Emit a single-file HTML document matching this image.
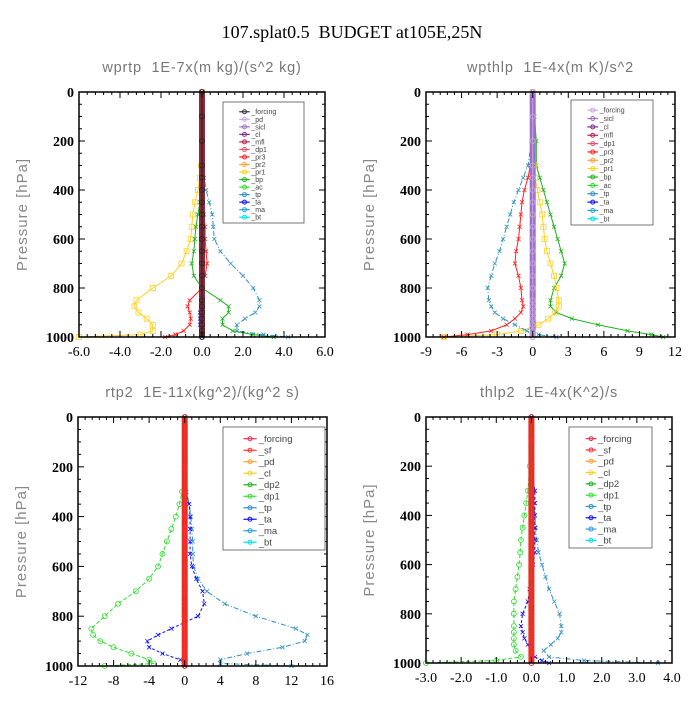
<!DOCTYPE html>
<html><head><meta charset="utf-8"><style>
body{margin:0;background:#fff;width:700px;height:700px;overflow:hidden}
svg text{font-family:"Liberation Sans",sans-serif;white-space:pre}
.tk{font-family:"Liberation Serif",serif;font-size:14px;fill:#000}
</style></head><body>
<svg id="s" width="700" height="700" xmlns="http://www.w3.org/2000/svg">
<text x="352" y="38" text-anchor="middle" style="font-family:'Liberation Serif',serif;font-size:18px">107.splat0.5  BUDGET at105E,25N</text>
</svg>
<script>
const levels=[0,100,200,300,350,400,450,500,550,600,650,700,750,800,850,875,900,925,950,975,990,1000];
// panel 1 wprtp
const p1_pr1=[0,0,0,-0.05,-0.1,-0.2,-0.35,-0.45,-0.5,-0.55,-0.75,-1.0,-1.5,-2.4,-3.2,-3.3,-3.1,-2.7,-2.4,-2.4,-3,-6.0];
const p1_bp=[0,0,0,0,0,-0.05,-0.1,-0.2,-0.3,-0.35,-0.4,-0.5,-0.4,0,0.9,1.3,1.3,1.0,1.0,1.5,2.5,3.5];
const p1_tp=[0,0,0,0.05,0.1,0.2,0.35,0.5,0.55,0.6,0.9,1.4,2.0,2.5,2.8,2.8,2.6,2.1,1.7,1.7,3.0,4.2];
const p1_pr3=[0,0,0,0,0,0,0.05,0.1,0.15,0.15,0.2,0.25,0.15,0,-0.6,-0.7,-0.6,-0.55,-0.6,-0.9,-1.3,-1.8];
const p1_ta=[0,0,0,0,0,0,0,0,0,0,0,0,0,0,0,-0.05,-0.1,-0.1,-0.1,0,0,0];
// panel 2 wpthlp
const p2_bp=[0,0.15,0.3,0.3,0.6,0.9,1.2,1.5,1.8,2.1,2.4,2.7,2.4,1.8,1.5,1.5,2,3.3,5.5,8,10,11];
const p2_pr1=[0,0,0,0.1,0.2,0.4,0.6,0.8,0.9,1.0,1.2,1.5,1.8,2.0,2.2,2.2,1.9,1.3,0.5,-1.0,-3,-7.5];
const p2_pr3=[0,0,0,-0.2,-0.4,-0.7,-0.9,-1.0,-1.1,-1.2,-1.4,-1.5,-1.2,-1.0,-0.9,-0.8,-1.0,-1.5,-2.2,-3.5,-5.5,-7.5];
const p2_tp=[0,0,-0.1,-0.4,-0.8,-1.2,-1.6,-1.9,-2.2,-2.5,-2.8,-3.2,-3.5,-3.8,-3.7,-3.5,-3.2,-2.5,-1.5,-0.5,0.5,2];
// panel 3 rtp2
const p3_dp1=[0,0,0,-0.3,-0.6,-1,-1.5,-2,-2.5,-3,-4,-5.5,-7.5,-9,-10.5,-10.3,-9.5,-8,-6,-4,-3.5,-9];
const p3_tp=[0,0,0,0.2,0.5,0.7,0.8,0.9,0.9,1.0,1.5,2.5,4.5,8,12.5,13.8,13.5,11,7,4,4,12];
const p3_ta=[0,0,0,0.1,0.5,0.6,0.6,0.6,0.6,0.8,1.3,2,2.2,1.5,-1.5,-3,-4.2,-4,-2.5,-0.5,0,0];
// panel 4 thlp2
const p4_dp1=[0,0,-0.05,-0.1,-0.15,-0.2,-0.25,-0.3,-0.32,-0.35,-0.4,-0.45,-0.5,-0.5,-0.5,-0.5,-0.5,-0.5,-0.45,-0.3,-1.0,-3.0];
const p4_tp=[0,0,0.03,0.05,0.08,0.1,0.12,0.15,0.2,0.3,0.4,0.5,0.65,0.8,0.85,0.85,0.75,0.55,0.35,0.5,1.5,3.6];
const p4_ta=[0,0,0,0.1,0.1,0.1,0.1,0.1,0.1,0.05,0,-0.05,-0.1,-0.25,-0.3,-0.25,-0.2,-0.1,0,0.1,0.3,0.5];
const zeros=levels.map(()=>0);
const ticks1=["-6.0","-4.0","-2.0","0.0","2.0","4.0","6.0"];
const ticks2=["-9","-6","-3","0","3","6","9","12"];
const ticks3=["-12","-8","-4","0","4","8","12","16"];
const ticks4=["-3.0","-2.0","-1.0","0.0","1.0","2.0","3.0","4.0"];
const yticks=["0","200","400","600","800","1000"];
const legend1=[["_forcing","#333"],["_pd","#c9a8e0"],["_sicl","#9b6fc4"],["_cl","#7a2f8f"],["_mfl","#b0204f"],["_dp1","#e8506a"],["_pr3","#ff2020"],["_pr2","#ffa030"],["_pr1","#ffd020"],["_bp","#20b020"],["_ac","#30e030"],["_tp","#3090c0"],["_ta","#1010ff"],["_ma","#2aa0e0"],["_bt","#00e0f0"]];
const legend2=[["_forcing","#c9a8e0"],["_sicl","#9b6fc4"],["_cl","#7a2f8f"],["_mfl","#b0204f"],["_dp1","#e8506a"],["_pr3","#ff2020"],["_pr2","#ffa030"],["_pr1","#ffd020"],["_bp","#20b020"],["_ac","#30e030"],["_tp","#3090c0"],["_ta","#1010ff"],["_ma","#2aa0e0"],["_bt","#00e0f0"]];
const legend3=[["_forcing","#e83050"],["_sf","#ff3030"],["_pd","#ffa030"],["_cl","#ffd020"],["_dp2","#20b020"],["_dp1","#30e030"],["_tp","#3090c0"],["_ta","#1010ff"],["_ma","#2aa0e0"],["_bt","#00e0f0"]];

const S=document.getElementById('s');const NS="http://www.w3.org/2000/svg";
function mk(t,a,p){const e=document.createElementNS(NS,t);for(const k in a)e.setAttribute(k,a[k]);(p||S).appendChild(e);return e;}

function panel(o){
  const g=mk('g',{});
  
  
  const X=v=>o.x0+(v-o.xmin)/(o.xmax-o.xmin)*(o.x1-o.x0);
  const Y=p=>o.y0+p/1000*(o.y1-o.y0);
  const t=mk('text',{x:(o.x0+o.x1)/2,y:o.y0-20,'text-anchor':'middle','font-size':'14.5',fill:'#777','letter-spacing':'0.8'},g);
  t.textContent=o.title;
  
  
  const yt=mk('text',{transform:`translate(${o.x0-52},${(o.y0+o.y1)/2}) rotate(-90)`,'text-anchor':'middle','font-size':'15',fill:'#888','letter-spacing':'1'},g);
  yt.textContent="Pressure [hPa]";
  
  
  o.series.forEach(s=>{
    const pts=s.v.map((v,i)=>X(v).toFixed(1)+','+Y(levels[i]).toFixed(1)).join(' ');
    const pl=mk('polyline',{points:pts,fill:'none',stroke:s.c,'stroke-width':s.w||1,'stroke-dasharray':s.d||''},g);
    
    
    s.v.forEach((v,i)=>{
      if(s.m==='o')mk('circle',{cx:X(v),cy:Y(levels[i]),r:2.5,fill:'none',stroke:s.c,'stroke-width':0.8},g);
      else if(s.m==='s')mk('rect',{x:X(v)-2.5,y:Y(levels[i])-2.5,width:5,height:5,fill:'none',stroke:s.c,'stroke-width':0.8},g);
      else mk('path',{d:`M${X(v)-2},${Y(levels[i])-2}l4,4m0,-4l-4,4`,stroke:s.c,'stroke-width':0.8},g);
    });
  });
  const fr=mk('rect',{x:o.x0,y:o.y0,width:o.x1-o.x0,height:o.y1-o.y0,fill:'none',stroke:'#000','stroke-width':1.5},g);
  
  
  const n=o.xt.length-1;
  for(let i=0;i<=n*5;i++){
    const v=o.xmin+(o.xmax-o.xmin)*i/(n*5);const x=X(v);const L=i%5?3:6;
    mk('line',{x1:x,x2:x,y1:o.y1,y2:o.y1-L,stroke:'#000'},g);
    mk('line',{x1:x,x2:x,y1:o.y0,y2:o.y0+L,stroke:'#000'},g);
  }
  o.xt.forEach((lab,i)=>{
    const tx=mk('text',{x:X(o.xmin+(o.xmax-o.xmin)*i/n),y:o.y1+19,'text-anchor':'middle',class:'tk'},g);
    tx.textContent=lab;
    
    
  });
  for(let p=0;p<=1000;p+=50){
    const y=Y(p);const L=p%200?3:6;
    mk('line',{x1:o.x0,x2:o.x0+L,y1:y,y2:y,stroke:'#000'},g);
    mk('line',{x1:o.x1,x2:o.x1-L,y1:y,y2:y,stroke:'#000'},g);
  }
  yticks.forEach((lab,i)=>{
    const tx=mk('text',{x:o.x0-5,y:Y(i*200)+5,'text-anchor':'end',class:'tk','font-weight':'bold'},g);
    tx.textContent=lab;
    
    
  });
  const lg=mk('g',{},g);
  
  
  mk('rect',{x:o.lx,y:o.ly,width:o.lw,height:o.lh,fill:'#fff',stroke:'#555','stroke-width':0.8},lg);
  const sp=(o.lh-8)/o.leg.length;
  o.leg.forEach((e,i)=>{
    const y=o.ly+6+sp*(i+0.5);
    mk('line',{x1:o.lx+o.lw*0.2,x2:o.lx+o.lw*0.33,y1:y,y2:y,stroke:e[1],'stroke-width':1.2},lg);
    mk('circle',{cx:o.lx+o.lw*0.265,cy:y,r:2,fill:'none',stroke:e[1]},lg);
    const tx=mk('text',{x:o.lx+o.lw*0.35,y:y+o.fs*0.35,'font-size':o.fs,fill:'#444'},lg);
    tx.textContent=e[0];
    
    
  });
}
const base=(c1,c2)=>[{n:'zero-band',v:zeros,c:c1,w:6,m:'o'},{n:'forcing',v:zeros,c:c2,w:1,m:'o'}];
panel({name:'panel-wprtp',title:'wprtp  1E-7x(m kg)/(s^2 kg)',x0:79,x1:325,y0:92,y1:337,xmin:-6,xmax:6,xt:ticks1,
 series:[{n:'pr1',v:p1_pr1,c:'#ffd020',m:'s'},{n:'bp',v:p1_bp,c:'#20b020',m:'x'},{n:'tp',v:p1_tp,c:'#3090c0',m:'x',d:'5,2,1,2'},{n:'pr3',v:p1_pr3,c:'#ff2020',m:'x'},{n:'ta',v:p1_ta,c:'#1010ff',m:'x'}].concat(base('#8a2a3a','#222')),
 lx:223,ly:102,lw:81,lh:121,fs:7,leg:legend1});
panel({name:'panel-wpthlp',title:'wpthlp  1E-4x(m K)/s^2',x0:426,x1:675,y0:92,y1:337,xmin:-9,xmax:12,xt:ticks2,
 series:[{n:'bp',v:p2_bp,c:'#20b020',m:'x'},{n:'pr1',v:p2_pr1,c:'#ffd020',m:'s'},{n:'pr3',v:p2_pr3,c:'#ff2020',m:'x'},{n:'tp',v:p2_tp,c:'#3090c0',m:'x',d:'5,2,1,2'}].concat(base('#9a70c8','#c9a8e0')),
 lx:571,ly:100,lw:82,lh:125,fs:7,leg:legend2});
panel({name:'panel-rtp2',title:'rtp2  1E-11x(kg^2)/(kg^2 s)',x0:78,x1:327,y0:417,y1:666,xmin:-12,xmax:16,xt:ticks3,
 series:[{n:'dp1',v:p3_dp1,c:'#30e030',m:'o',d:'4,2'},{n:'tp',v:p3_tp,c:'#3090c0',m:'x',d:'5,2,1,2'},{n:'ta',v:p3_ta,c:'#1010ff',m:'x',d:'3,2'}].concat(base('#e03020','#ff3030')),
 lx:223,ly:427,lw:102,lh:123,fs:9.5,leg:legend3});
panel({name:'panel-thlp2',title:'thlp2  1E-4x(K^2)/s',x0:426,x1:672,y0:417,y1:663,xmin:-3,xmax:4,xt:ticks4,
 series:[{n:'dp1',v:p4_dp1,c:'#30e030',m:'o',d:'4,2'},{n:'tp',v:p4_tp,c:'#3090c0',m:'x',d:'5,2,1,2'},{n:'ta',v:p4_ta,c:'#1010ff',m:'x',d:'3,2'}].concat(base('#e03020','#ff3030')),
 lx:569,ly:427,lw:83,lh:121,fs:9.5,leg:legend3});
</script>
</body></html>
